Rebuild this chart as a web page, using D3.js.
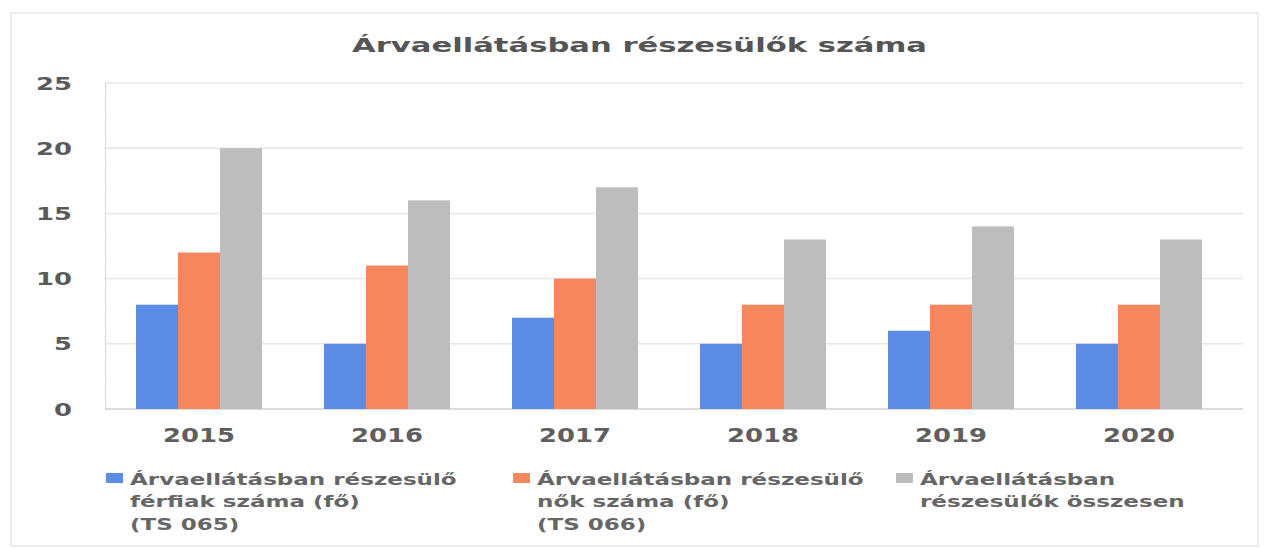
<!DOCTYPE html>
<html>
<head>
<meta charset="utf-8">
<script src="https://cdn.jsdelivr.net/npm/d3@7"></script>
<style>
    body { margin: 0; background: #fff; }
    text { font-family: "DejaVu Sans", Verdana, sans-serif; font-weight: bold; }
</style>
</head>
<body>
<div id="chart"></div>
<script>
// Data
const years = ["2015", "2016", "2017", "2018", "2019", "2020"];
const ferfiak = [8, 5, 7, 5, 6, 5];
const nok = [12, 11, 10, 8, 8, 8];
const osszesen = [20, 16, 17, 13, 14, 13];
const seriesNames = [
    ["Árvaellátásban részesülő", "férfiak száma (fő)", "(TS 065)"],
    ["Árvaellátásban részesülő", "nők száma (fő)", "(TS 066)"],
    ["Árvaellátásban", "részesülők összesen"]
];
const yTicks = [0, 5, 10, 15, 20, 25];

const width = 1268, height = 549;
const colours = ["#5b8de6", "#f5875c", "#bdbdbd"];

const svg = d3.select("#chart")
    .append("svg")
    .attr("width", width)
    .attr("height", height);

// Outer frame
svg.append("rect")
    .attr("x", 11).attr("y", 13)
    .attr("width", 1247).attr("height", 533)
    .attr("fill", "none")
    .attr("stroke", "#d9d9d9");

// Title (the original is stretched wide, so fit it to its length)
svg.append("text")
    .attr("x", 352).attr("y", 52)
    .attr("textLength", 575)
    .attr("lengthAdjust", "spacingAndGlyphs")
    .style("font-size", "19px")
    .style("fill", "#555")
    .text("Árvaellátásban részesülők száma");

// Scales
const x = d3.scaleBand()
    .domain(years)
    .range([105, 1233])
    .paddingInner(0.33)
    .paddingOuter(0.165);

const xSeries = d3.scaleBand()
    .domain([0, 1, 2])
    .range([0, x.bandwidth()]);

const y = d3.scaleLinear()
    .domain([0, 25])
    .range([409, 83]);

// Grid lines
svg.append("g")
    .selectAll("line")
    .data(yTicks)
    .join("line")
    .attr("x1", 105).attr("x2", 1243)
    .attr("y1", d => y(d)).attr("y2", d => y(d))
    .attr("stroke", d => d === 0 ? "#d0d0d0" : "#e6e6e6")
    .attr("stroke-width", 1.5);

// Y axis
const yAxis = svg.append("g")
    .attr("transform", "translate(105,0)")
    .call(d3.axisLeft(y).tickValues(yTicks).tickSize(0).tickPadding(33));
yAxis.select(".domain").attr("stroke", "#c4c4c4").attr("stroke-dasharray", "2,1");
yAxis.selectAll("text")
    .attr("textLength", d => String(d).length * 18)
    .attr("lengthAdjust", "spacingAndGlyphs")
    .attr("dy", "0.36em")
    .style("font-size", "17px")
    .style("fill", "#5a5a5a");

// X axis
const xAxis = svg.append("g")
    .attr("transform", "translate(0,409)")
    .call(d3.axisBottom(x).tickSize(0).tickPadding(19));
xAxis.select(".domain").remove();
xAxis.selectAll("text")
    .attr("textLength", 72)
    .attr("lengthAdjust", "spacingAndGlyphs")
    .style("font-size", "20px")
    .style("fill", "#5f5f5f");

// Bars
const series = [ferfiak, nok, osszesen];
series.forEach((values, s) => {
    svg.append("g")
        .selectAll("rect")
        .data(values)
        .join("rect")
        .attr("x", (d, i) => x(years[i]) + xSeries(s))
        .attr("y", d => y(d))
        .attr("width", xSeries.bandwidth())
        .attr("height", d => y(0) - y(d))
        .attr("fill", colours[s]);
});

// Legend
const legendX = [106, 513, 896];
const legend = svg.append("g");
const items = legend.selectAll("g")
    .data(seriesNames)
    .join("g")
    .attr("transform", (d, i) => `translate(${legendX[i]},0)`);

items.append("rect")
    .attr("x", 0).attr("y", 473)
    .attr("width", 17).attr("height", 10)
    .attr("fill", (d, i) => colours[i]);

const labels = items.append("text")
    .style("font-size", "16.5px")
    .style("fill", "#666");
labels.selectAll("tspan")
    .data(d => d)
    .join("tspan")
    .attr("x", 0)
    .attr("dy", (d, i) => i === 0 ? 0 : 22.5)
    .text(d => d);

// The scanned legend is stretched too: widen it so the first line is 327px
const natural = labels.node().getComputedTextLength
    ? labels.select("tspan").node().getComputedTextLength()
    : 327;
const stretch = 327 / natural;
labels.attr("transform", `translate(24,485) scale(${stretch},1)`);
</script>
</body>
</html>
